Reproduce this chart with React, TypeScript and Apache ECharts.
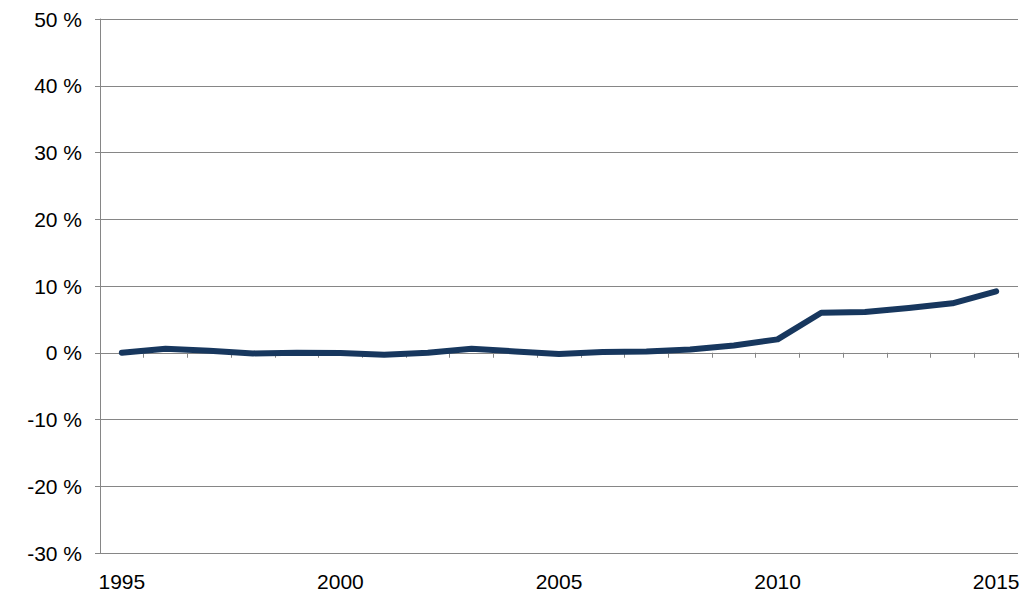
import React, { useEffect, useRef } from "react";
import * as echarts from "echarts";

const years = ["1995","1996","1997","1998","1999","2000","2001","2002","2003","2004","2005","2006","2007","2008","2009","2010","2011","2012","2013","2014","2015"];
const values = [0, 0.6, 0.3, -0.1, 0, -0.05, -0.3, 0, 0.6, 0.2, -0.2, 0.1, 0.2, 0.5, 1.1, 2.0, 6.0, 6.1, 6.7, 7.4, 9.2];

export default function App() {
  const ref = useRef<HTMLDivElement>(null);
  useEffect(() => {
    const chart = echarts.init(ref.current!, null, { renderer: "svg" });
    const font = { fontFamily: "Liberation Sans, Arial, sans-serif", fontSize: 21, color: "#000" };
    chart.setOption({
      animation: false,
      grid: { left: 100, right: 9, top: 19, bottom: 47 },
      xAxis: [
        {
          type: "category", data: years, boundaryGap: true,
          axisLine: { onZero: true, lineStyle: { color: "#868686", width: 1 } },
          axisTick: { show: true, length: 5, lineStyle: { color: "#868686" } },
          axisLabel: { show: false }, splitLine: { show: false },
        },
        {
          type: "category", data: years, boundaryGap: true, position: "bottom",
          axisLine: { show: false }, axisTick: { show: false },
          axisLabel: { ...font, margin: 18, interval: 0, formatter: (v: string, i: number) => (i % 5 === 0 ? v : "") },
        },
      ],
      yAxis: {
        type: "value", min: -30, max: 50, interval: 10,
        axisLine: { show: true, lineStyle: { color: "#868686" } },
        axisTick: { show: true, length: 5, lineStyle: { color: "#868686" } },
        axisLabel: { ...font, margin: 18, formatter: (v: number) => `${v} %` },
        splitLine: { lineStyle: { color: "#868686", width: 1 } },
      },
      series: [
        {
          type: "line", data: values, xAxisIndex: 0, symbol: "none",
          lineStyle: { color: "#17375E", width: 6, cap: "round", join: "round" },
        },
      ],
    });
    return () => chart.dispose();
  }, []);
  return <div ref={ref} style={{ position: "fixed", left: 0, top: 0, width: 1027, height: 600, background: "#fff" }} />;
}
